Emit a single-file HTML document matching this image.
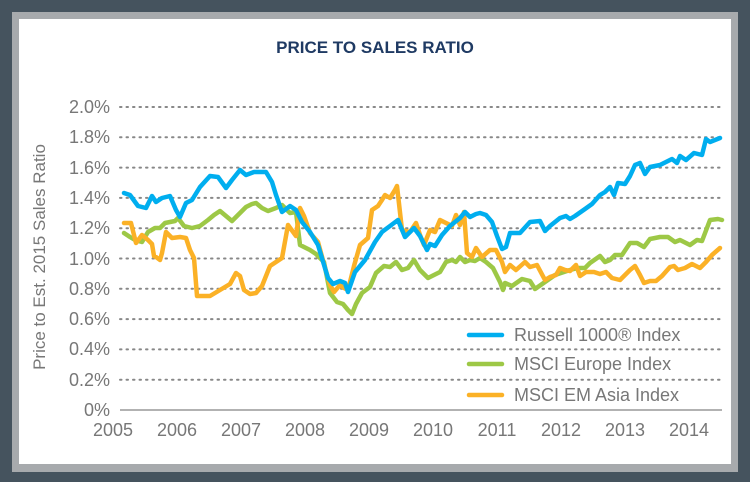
<!DOCTYPE html>
<html><head><meta charset="utf-8"><style>
html,body{margin:0;padding:0;width:750px;height:482px;overflow:hidden;background:#45535e}
</style></head><body>
<svg width="750" height="482" viewBox="0 0 750 482" xmlns="http://www.w3.org/2000/svg" font-family="Liberation Sans, sans-serif">
<rect x="0" y="0" width="750" height="482" fill="#45535e"/>
<rect x="12" y="12" width="726" height="460" fill="#a7aaad"/>
<rect x="19" y="19" width="712" height="445" fill="#fff"/>
<text x="375" y="53" text-anchor="middle" font-size="17" font-weight="bold" fill="#1f3a63">PRICE TO SALES RATIO</text>
<g stroke="#888" stroke-width="2" stroke-dasharray="1.5 5" stroke-linecap="round">
<line x1="120" y1="107" x2="722" y2="107"/><line x1="120" y1="137.3" x2="722" y2="137.3"/>
<line x1="120" y1="167.6" x2="722" y2="167.6"/><line x1="120" y1="197.9" x2="722" y2="197.9"/>
<line x1="120" y1="228.2" x2="722" y2="228.2"/><line x1="120" y1="258.5" x2="722" y2="258.5"/>
<line x1="120" y1="288.8" x2="722" y2="288.8"/><line x1="120" y1="319.1" x2="722" y2="319.1"/>
<line x1="120" y1="349.4" x2="722" y2="349.4"/><line x1="120" y1="379.7" x2="722" y2="379.7"/>
</g>
<line x1="120" y1="410" x2="722" y2="410" stroke="#999" stroke-width="1.5"/>
<g font-size="18" fill="#777" text-anchor="end">
<text x="110" y="113">2.0%</text><text x="110" y="143">1.8%</text><text x="110" y="174">1.6%</text>
<text x="110" y="204">1.4%</text><text x="110" y="234">1.2%</text><text x="110" y="265">1.0%</text>
<text x="110" y="295">0.8%</text><text x="110" y="325">0.6%</text><text x="110" y="355">0.4%</text>
<text x="110" y="386">0.2%</text><text x="110" y="416">0%</text>
</g>
<g font-size="18" fill="#777" text-anchor="middle">
<text x="113" y="436">2005</text><text x="177" y="436">2006</text><text x="241" y="436">2007</text>
<text x="305" y="436">2008</text><text x="369" y="436">2009</text><text x="433" y="436">2010</text>
<text x="497" y="436">2011</text><text x="561" y="436">2012</text><text x="625" y="436">2013</text>
<text x="689" y="436">2014</text>
</g>
<text transform="translate(45,257) rotate(-90)" text-anchor="middle" font-size="17" fill="#777">Price to Est. 2015 Sales Ratio</text>
<g fill="none" stroke-width="4.5" stroke-linejoin="round" stroke-linecap="round">
<polyline stroke="#9dc846" points="124,233 130,237 135,240 142,242 148,232 155,228 160,228 165,223 175,221 178,218 184,226 192,228 200,226 208,220 214,215 220,211 226,216 232,221 238,215 246,207 252,204 256,203 262,208 268,211 276,208 282,205 290,213 296,212 300,245 310,250 316,254 324,262 330,293 337,302 343,304 348,310 352,314 356,304 362,293 370,287 376,273 384,266 390,267 396,262 402,270 408,268 414,260 420,270 428,278 434,275 440,272 446,262 452,260 456,262 460,257 465,262 470,260 475,261 480,258 486,262 493,268 500,282 503,290 505,283 512,286 522,279 530,281 535,289 545,282 555,275 570,270 578,268 585,268 590,263 600,256 605,262 610,260 615,255 622,255 630,243 637,243 644,247 650,239 660,237 668,237 675,242 680,240 690,245 697,240 702,241 710,220 718,219 722,220"/>
<polyline stroke="#fbb126" points="124,223 131,223 136,243 142,235 148,240 152,244 154,256 156,257 160,260 162,253 166,232 172,238 180,237 186,238 190,250 194,258 197,296 210,296 220,290 230,284 236,273 240,276 244,290 250,294 256,293 262,286 270,266 276,262 282,258 288,225 296,236 300,208 304,216 310,233 318,242 324,264 330,285 334,292 340,285 344,288 348,290 354,266 360,245 368,238 372,210 378,206 382,200 385,195 390,198 395,190 397,186 402,230 410,232 416,223 420,235 424,245 430,230 435,232 440,220 446,223 452,226 456,215 460,225 464,212 467,253 472,257 476,248 482,257 490,250 496,250 502,262 505,272 510,265 516,270 525,262 530,267 537,265 545,280 550,277 556,275 560,268 565,270 570,271 576,265 580,276 586,272 594,272 600,274 606,272 612,278 620,280 630,270 635,266 640,275 644,283 650,281 656,281 662,276 670,267 674,266 678,270 685,268 692,264 700,268 706,262 712,255 720,248"/>
<polyline stroke="#00aeef" points="124,193 130,195 138,206 146,208 152,196 156,202 162,198 170,196 176,210 180,217 186,203 192,200 200,187 210,176 218,177 226,188 232,180 240,170 246,175 254,172 266,172 272,182 276,195 282,212 290,206 296,210 302,222 310,232 318,245 328,278 333,284 340,281 345,283 348,292 355,272 365,260 375,242 382,232 390,226 398,220 405,237 414,228 420,236 424,244 427,250 430,244 435,246 442,235 450,226 460,218 465,212 470,217 476,214 480,213 486,215 492,222 497,236 502,249 506,247 510,233 520,233 530,222 540,221 545,231 550,226 560,218 566,216 570,219 575,216 585,209 592,204 600,195 605,192 610,187 614,195 618,183 625,184 630,176 635,165 640,163 645,174 650,167 660,165 666,162 672,159 677,163 680,156 686,160 694,153 702,155 706,139 710,142 720,138"/>
<line x1="469" y1="335" x2="502" y2="335" stroke="#00aeef"/>
<line x1="469" y1="364" x2="502" y2="364" stroke="#9dc846"/>
<line x1="469" y1="395" x2="502" y2="395" stroke="#fbb126"/>
</g>
<g font-size="18" fill="#777">
<text x="514" y="341">Russell 1000® Index</text>
<text x="514" y="370">MSCI Europe Index</text>
<text x="514" y="401">MSCI EM Asia Index</text>
</g>
</svg>
</body></html>
